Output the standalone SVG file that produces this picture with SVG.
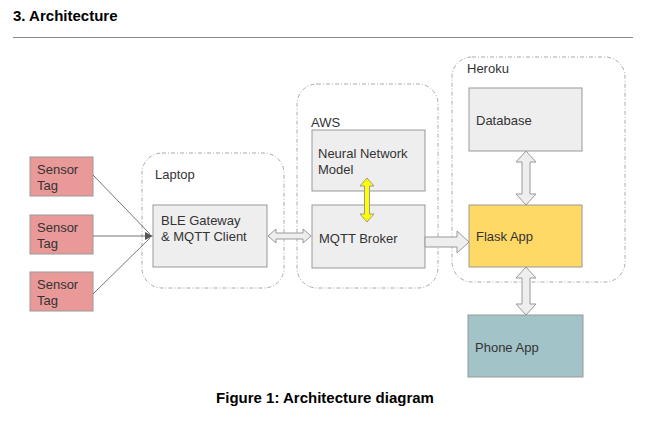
<svg xmlns="http://www.w3.org/2000/svg" width="654" height="443" viewBox="0 0 654 443">
<style>
text{font-family:"Liberation Sans",Arial,sans-serif;fill:#333;font-size:13px}
.h{font-weight:bold;font-size:15px;fill:#000}
.grp{fill:none;stroke:#aaa;stroke-width:1;stroke-dasharray:4 2 1 2}
.box{stroke:#999;stroke-width:1}
.gray{fill:#eeeeee}
.red{fill:#ea9999}
.yel{fill:#ffd966}
.teal{fill:#a2c4c9}
.harrow{fill:#eeeeee;stroke:#999;stroke-width:1}
.line{stroke:#777;stroke-width:1;fill:none}
</style>
<rect width="654" height="443" fill="#fff"/>
<text x="13" y="21" class="h">3. Architecture</text>
<line x1="13" y1="37.5" x2="633" y2="37.5" stroke="#888" stroke-width="1"/>

<g id="laptop-group"><rect class="grp" x="142" y="153" width="142" height="135" rx="20"/><text x="155" y="179">Laptop</text></g>
<g id="aws-group"><rect class="grp" x="297" y="84" width="141" height="204" rx="20"/><text x="311" y="127">AWS</text></g>
<g id="heroku-group"><rect class="grp" x="452" y="57" width="173" height="225" rx="20"/><text x="467" y="73">Heroku</text></g>

<g id="sensor1"><rect class="box red" x="30" y="157" width="63" height="39"/><text x="37" y="174">Sensor</text><text x="37" y="190">Tag</text></g>
<g id="sensor2"><rect class="box red" x="30" y="215" width="63" height="39"/><text x="37" y="232">Sensor</text><text x="37" y="248">Tag</text></g>
<g id="sensor3"><rect class="box red" x="30" y="272" width="63" height="39"/><text x="37" y="289">Sensor</text><text x="37" y="305">Tag</text></g>

<g id="ble"><rect class="box gray" x="153" y="205" width="114" height="62"/><text x="161" y="225">BLE Gateway</text><text x="161" y="241">&amp; MQTT Client</text></g>
<g id="nn"><rect class="box gray" x="312" y="130" width="113" height="61"/><text x="318" y="158">Neural Network</text><text x="318" y="174">Model</text></g>
<g id="broker"><rect class="box gray" x="312" y="205" width="113" height="63"/><text x="319" y="243">MQTT Broker</text></g>
<g id="database"><rect class="box gray" x="469" y="88" width="113" height="63"/><text x="476" y="125">Database</text></g>
<g id="flask"><rect class="box yel" x="469" y="205" width="113" height="62"/><text x="476" y="241">Flask App</text></g>
<g id="phone"><rect class="box teal" x="468" y="315" width="115" height="62"/><text x="475" y="352">Phone App</text></g>

<g id="connectors">
<line class="line" x1="93" y1="175" x2="150" y2="234"/>
<line class="line" x1="93" y1="236" x2="150" y2="236"/>
<line class="line" x1="93" y1="294" x2="150" y2="238"/>
<path d="M145 232 L153 236 L145 240 Z" fill="#555"/>
<path class="harrow" d="M268 236 L276 229 L276 233 L303 233 L303 229 L311 236 L303 243 L303 239 L276 239 L276 243 Z"/>
<path d="M367 178 L374 186 L369.5 186 L369.5 214 L374 214 L367 222 L360 214 L364.5 214 L364.5 186 L360 186 Z" fill="#ffff00" stroke="#999" stroke-width="1"/>
<path class="harrow" d="M425 237 L457 237 L457 231 L469 242 L457 253 L457 247 L425 247 Z"/>
<path class="harrow" d="M526 151 L536 162 L530 162 L530 194 L536 194 L526 205 L516 194 L522 194 L522 162 L516 162 Z"/>
<path class="harrow" d="M526 267 L536 278 L530 278 L530 304 L536 304 L526 315 L516 304 L522 304 L522 278 L516 278 Z"/>
</g>

<text x="325" y="403" class="h" text-anchor="middle">Figure 1: Architecture diagram</text>
</svg>
